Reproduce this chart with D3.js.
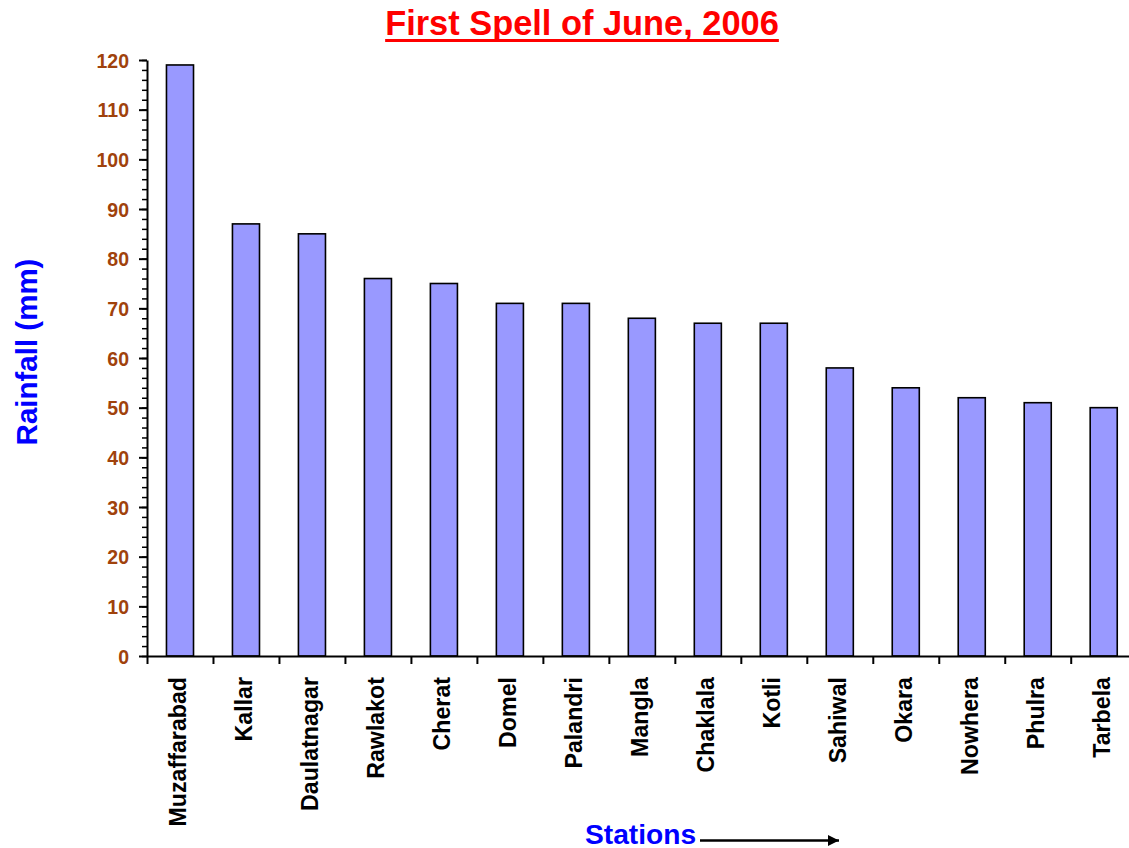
<!DOCTYPE html>
<html>
<head>
<meta charset="utf-8">
<script src="https://cdn.jsdelivr.net/npm/d3@7"></script>
<style>
  html, body { margin: 0; padding: 0; background: #fff; }
  svg { display: block; }
  text { font-family: "Liberation Sans", Arial, sans-serif; font-weight: bold; }
</style>
</head>
<body>
<svg id="chart" width="1129" height="848"></svg>
<script>
const stations = ["Muzaffarabad","Kallar","Daulatnagar","Rawlakot","Cherat","Domel","Palandri","Mangla","Chaklala","Kotli","Sahiwal","Okara","Nowhera","Phulra","Tarbela"];
const rainfall = [119, 87, 85, 76, 75, 71, 71, 68, 67, 67, 58, 54, 52, 51, 50];
const yTicks = [0, 10, 20, 30, 40, 50, 60, 70, 80, 90, 100, 110, 120];
const titleText = "First Spell of June, 2006";
const yTitle = "Rainfall (mm)";
const xTitle = "Stations";

const svg = d3.select("#chart");
const plotLeft = 147, plotRight = 1136.7, plotTop = 60, plotBottom = 656;

const x = d3.scaleBand().domain(stations).range([plotLeft, plotRight]).paddingInner(0.59).paddingOuter(0.295);
const xIdx = d3.scaleLinear().domain([0, stations.length]).range([plotLeft, plotRight]);
const y = d3.scaleLinear().domain([0, 120]).range([plotBottom, plotTop]);

// Bars
svg.append("g").selectAll("rect").data(stations).join("rect")
  .attr("x", d => x(d))
  .attr("y", (d, i) => y(rainfall[i]))
  .attr("width", x.bandwidth())
  .attr("height", (d, i) => y(0) - y(rainfall[i]))
  .attr("fill", "#9999FF")
  .attr("stroke", "#000")
  .attr("stroke-width", 1.6);

// Y minor ticks
const minor = d3.range(0, 121, 2);
svg.append("g").attr("transform", `translate(${plotLeft},0)`)
  .call(d3.axisLeft(y).tickValues(minor).tickSize(5).tickFormat(""))
  .call(g => g.select(".domain").remove())
  .call(g => g.selectAll("line").attr("stroke", "#000").attr("stroke-width", 1.5));

// Y major axis
svg.append("g").attr("transform", `translate(${plotLeft},0)`)
  .call(d3.axisLeft(y).tickValues(yTicks).tickSize(8).tickPadding(10).tickSizeOuter(0))
  .call(g => g.select(".domain").attr("stroke", "#000").attr("stroke-width", 2))
  .call(g => g.selectAll("line").attr("stroke", "#000").attr("stroke-width", 2))
  .call(g => g.selectAll("text").attr("fill", "#A0420C").style("font-size", "19.5px")
      .style("font-weight", "bold").attr("dy", "0.36em"));

// X axis with boundary ticks
svg.append("g").attr("transform", `translate(0,${plotBottom})`)
  .call(d3.axisBottom(xIdx).tickValues(d3.range(0, stations.length + 1)).tickSize(8).tickFormat("").tickSizeOuter(0))
  .call(g => g.select(".domain").attr("stroke", "#000").attr("stroke-width", 2))
  .call(g => g.selectAll("line").attr("stroke", "#000").attr("stroke-width", 2));

// X labels
svg.append("g").selectAll("text").data(stations).join("text")
  .attr("transform", d => `translate(${x(d) + x.bandwidth() / 2 + 6.5},677) rotate(-90)`)
  .attr("text-anchor", "end")
  .style("font-size", "23.2px")
  .attr("fill", "#000")
  .text(d => d);

// Title
const t = svg.append("text")
  .attr("x", 582).attr("y", 35)
  .attr("text-anchor", "middle")
  .attr("fill", "#FF0000")
  .style("font-size", "34.4px")
  .text(titleText);
const tb = t.node().getBBox();
svg.append("line")
  .attr("x1", tb.x).attr("x2", tb.x + tb.width)
  .attr("y1", 40.5).attr("y2", 40.5)
  .attr("stroke", "#FF0000").attr("stroke-width", 3);

// Y title
svg.append("text")
  .attr("transform", "translate(37,352) rotate(-90)")
  .attr("text-anchor", "middle")
  .attr("fill", "#0000FF")
  .style("font-size", "29.5px")
  .text(yTitle);

// X title
svg.append("text")
  .attr("x", 585).attr("y", 844)
  .attr("fill", "#0000FF")
  .style("font-size", "28.2px")
  .text(xTitle);

// Arrow
svg.append("defs").append("marker")
  .attr("id", "arr").attr("viewBox", "0 0 10 10")
  .attr("refX", 10).attr("refY", 5)
  .attr("markerWidth", 14).attr("markerHeight", 11)
  .attr("markerUnits", "userSpaceOnUse")
  .attr("orient", "auto")
  .append("path").attr("d", "M0,0 L10,5 L0,10 Z").attr("fill", "#000");
svg.append("line")
  .attr("x1", 700).attr("x2", 839)
  .attr("y1", 840.5).attr("y2", 840.5)
  .attr("stroke", "#000").attr("stroke-width", 2.5)
  .attr("marker-end", "url(#arr)");
</script>
</body>
</html>
